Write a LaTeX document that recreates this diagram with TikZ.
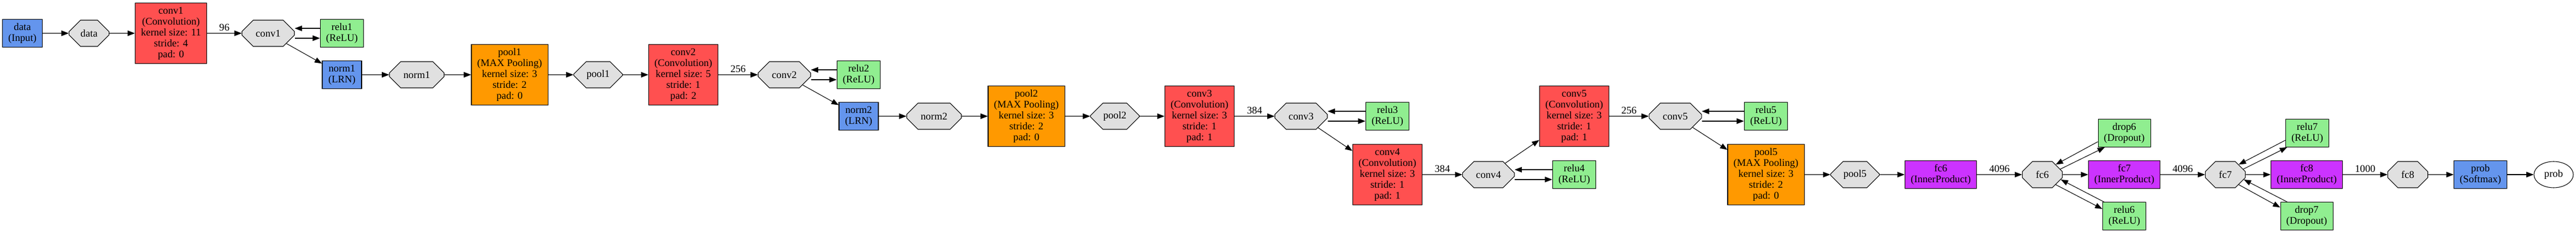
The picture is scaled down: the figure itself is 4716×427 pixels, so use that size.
\documentclass[tikz,border=0pt]{standalone}
\usepackage{fontspec}
\setmainfont{Liberation Serif}
\usetikzlibrary{shapes.misc, shapes.geometric, arrows.meta}
\definecolor{lyblue}{HTML}{6495ED}
\definecolor{lyred}{HTML}{FF5050}
\definecolor{lyorange}{HTML}{FF9900}
\definecolor{lypurple}{HTML}{CC33FF}
\definecolor{lygreen}{HTML}{90EE90}
\definecolor{blobgray}{HTML}{E0E0E0}

\begin{document}
\begin{tikzpicture}[x=0.75pt, y=-0.75pt, font=\fontsize{14}{15}\selectfont,
    >={Triangle[length=10pt,width=7.5pt]}, line width=0.8pt,
    layer/.style={draw, rectangle, align=center, inner xsep=8pt, inner ysep=4pt, minimum width=54pt, minimum height=38pt},
    plain/.style={layer, fill=lyblue},
    conv/.style={layer, fill=lyred, minimum height=83pt},
    pool/.style={layer, fill=lyorange, minimum height=83pt},
    ip/.style={layer, fill=lypurple},
    neuron/.style={layer, fill=lygreen},
    blob/.style={draw, chamfered rectangle, fill=blobgray, inner sep=0pt, minimum width=#1, minimum height=36pt, chamfered rectangle xsep={0.29*#1}, chamfered rectangle ysep=10.8pt},
    blob/.default=55pt,
    countlabel/.style={midway, above, inner sep=3pt}]
			\useasboundingbox (0,0) rectangle (4716,427);
			\node (dataL) [plain] at (41,61){data\\(Input)};
			\node (dataB) [blob] at (163,61){data};
			\node (conv1L) [conv] at (313,61){conv1\\(Convolution)\\kernel size: 11\\stride: 4\\pad: 0};
			\node (conv1B) [blob=72pt] at (491,61){conv1};
			\node (relu1) [neuron] at (626,61){relu1\\(ReLU)};
			\node (norm1L) [plain] at (626,137){norm1\\(LRN)};
			\node (norm1B) [blob=75pt] at (763,137){norm1};
			\node (pool1L) [pool] at (933,137){pool1\\(MAX Pooling)\\kernel size: 3\\stride: 2\\pad: 0};
			\node (pool1B) [blob=67pt] at (1095,137){pool1};
			\node (conv2L) [conv] at (1251,137){conv2\\(Convolution)\\kernel size: 5\\stride: 1\\pad: 2};
			\node (conv2B) [blob=72pt] at (1436,137){conv2};
			\node (relu2) [neuron] at (1572,137){relu2\\(ReLU)};
			\node (norm2L) [plain] at (1572,213){norm2\\(LRN)};
			\node (norm2B) [blob=75pt] at (1710,213){norm2};
			\node (pool2L) [pool] at (1879,213){pool2\\(MAX Pooling)\\kernel size: 3\\stride: 2\\pad: 0};
			\node (pool2B) [blob=67pt] at (2041,213){pool2};
			\node (conv3L) [conv] at (2196,213){conv3\\(Convolution)\\kernel size: 3\\stride: 1\\pad: 1};
			\node (conv3B) [blob=72pt] at (2382,213){conv3};
			\node (relu3) [neuron] at (2540,213){relu3\\(ReLU)};
			\node (conv4L) [conv] at (2540,320){conv4\\(Convolution)\\kernel size: 3\\stride: 1\\pad: 1};
			\node (conv4B) [blob=71pt] at (2725,320){conv4};
			\node (relu4) [neuron] at (2882,320){relu4\\(ReLU)};
			\node (conv5L) [conv] at (2882,213){conv5\\(Convolution)\\kernel size: 3\\stride: 1\\pad: 1};
			\node (conv5B) [blob=72pt] at (3067,213){conv5};
			\node (relu5) [neuron] at (3233,213){relu5\\(ReLU)};
			\node (pool5L) [pool] at (3233,320){pool5\\(MAX Pooling)\\kernel size: 3\\stride: 2\\pad: 0};
			\node (pool5B) [blob=67pt] at (3396,320){pool5};
			\node (fc6L) [ip] at (3553,320){fc6\\(InnerProduct)};
			\node (fc6B) [blob] at (3739,320){fc6};
			\node (drop6) [neuron] at (3889,244){drop6\\(Dropout)};
			\node (fc7L) [ip] at (3889,320){fc7\\(InnerProduct)};
			\node (relu6) [neuron] at (3889,396){relu6\\(ReLU)};
			\node (fc7B) [blob] at (4074,320){fc7};
			\node (relu7) [neuron] at (4224,244){relu7\\(ReLU)};
			\node (fc8L) [ip] at (4223,320){fc8\\(InnerProduct)};
			\node (drop7) [neuron] at (4223,396){drop7\\(Dropout)};
			\node (fc8B) [blob] at (4408,320){fc8};
			\node (probL) [plain] at (4541,320){prob\\(Softmax)};
			\node (probB) [draw, ellipse, inner sep=0pt, minimum width=54pt, minimum height=36pt] at (4675,320){prob};
			
			\draw[->] (dataL) -- (dataB);
			\draw[->] (dataB) -- (conv1L);
			\draw[->] (conv1L) -- node[countlabel]{96} (conv1B);
			\draw[->] ([yshift=6.75pt]relu1.west) -- ([yshift=6.75pt]conv1B.east);
			\draw[->] ([yshift=-6.75pt]conv1B.east) -- ([yshift=-6.75pt]relu1.west);
			\draw[->] (conv1B) -- (norm1L);
			\draw[->] (norm1L) -- (norm1B);
			\draw[->] (norm1B) -- (pool1L);
			\draw[->] (pool1L) -- (pool1B);
			\draw[->] (pool1B) -- (conv2L);
			\draw[->] (conv2L) -- node[countlabel]{256} (conv2B);
			\draw[->] ([yshift=6.75pt]relu2.west) -- ([yshift=6.75pt]conv2B.east);
			\draw[->] ([yshift=-6.75pt]conv2B.east) -- ([yshift=-6.75pt]relu2.west);
			\draw[->] (conv2B) -- (norm2L);
			\draw[->] (norm2L) -- (norm2B);
			\draw[->] (norm2B) -- (pool2L);
			\draw[->] (pool2L) -- (pool2B);
			\draw[->] (pool2B) -- (conv3L);
			\draw[->] (conv3L) -- node[countlabel]{384} (conv3B);
			\draw[->] ([yshift=6.75pt]relu3.west) -- ([yshift=6.75pt]conv3B.east);
			\draw[->] ([yshift=-6.75pt]conv3B.east) -- ([yshift=-6.75pt]relu3.west);
			\draw[->] (conv3B) -- (conv4L);
			\draw[->] (conv4L) -- node[countlabel]{384} (conv4B);
			\draw[->] ([yshift=6.75pt]relu4.west) -- ([yshift=6.75pt]conv4B.east);
			\draw[->] ([yshift=-6.75pt]conv4B.east) -- ([yshift=-6.75pt]relu4.west);
			\draw[->] (conv4B) -- (conv5L);
			\draw[->] (conv5L) -- node[countlabel]{256} (conv5B);
			\draw[->] ([yshift=6.75pt]relu5.west) -- ([yshift=6.75pt]conv5B.east);
			\draw[->] ([yshift=-6.75pt]conv5B.east) -- ([yshift=-6.75pt]relu5.west);
			\draw[->] (conv5B) -- (pool5L);
			\draw[->] (pool5L) -- (pool5B);
			\draw[->] (pool5B) -- (fc6L);
			\draw[->] (fc6L) -- node[countlabel]{4096} (fc6B);
			\draw[->] (drop6.198) -- (fc6B.37);
			\draw[->] (fc6B.17) -- (drop6.216);
			\draw[->] (fc6B) -- (fc7L);
			\draw[->] (fc6B.323) -- (relu6.162);
			\draw[->] (relu6.145) -- (fc6B.345);
			\draw[->] (fc7L) -- node[countlabel]{4096} (fc7B);
			\draw[->] (relu7.198) -- (fc7B.37);
			\draw[->] (fc7B.17) -- (relu7.215);
			\draw[->] (fc7B) -- (fc8L);
			\draw[->] (fc7B.323) -- (drop7.162);
			\draw[->] (drop7.144) -- (fc7B.345);
			\draw[->] (fc8L) -- node[countlabel]{1000} (fc8B);
			\draw[->] (fc8B) -- (probL);
			\draw[->] (probL) -- (probB);
		\end{tikzpicture}
\end{document}
